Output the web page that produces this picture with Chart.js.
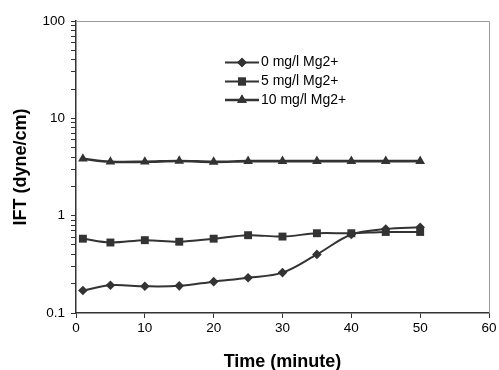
<!DOCTYPE html>
<html>
<head>
<meta charset="utf-8">
<script src="https://cdn.jsdelivr.net/npm/chart.js@4.4.1/dist/chart.umd.min.js"></script>
<style>
html,body{margin:0;padding:0;background:#fff;}
#wrap{width:499px;height:370px;position:relative;}
</style>
</head>
<body>
<div id="wrap"><canvas id="c" width="499" height="370"></canvas></div>
<script>
const timeMinutes = [1, 5, 10, 15, 20, 25, 30, 35, 40, 45, 50];
const ift0 = [0.17, 0.193, 0.188, 0.19, 0.21, 0.23, 0.26, 0.40, 0.64, 0.73, 0.76];
const ift5 = [0.58, 0.53, 0.56, 0.54, 0.58, 0.63, 0.61, 0.66, 0.66, 0.68, 0.68];
const ift10 = [3.84, 3.58, 3.58, 3.65, 3.57, 3.63, 3.63, 3.63, 3.63, 3.63, 3.63];
const seriesLabels = ['0 mg/l Mg2+', '5 mg/l Mg2+', '10 mg/l Mg2+'];
const yMajorTicks = [0.1, 1, 10, 100];
const xTicks = [0, 10, 20, 30, 40, 50, 60];

const FONT = "'Liberation Sans', Arial, sans-serif";
const INK = '#333333';

function pts(vals){ return timeMinutes.map((t,i)=>({x:t, y:vals[i]})); }

const yTickValues = [];
yMajorTicks.forEach((m, i) => {
  yTickValues.push(m);
  if (i < yMajorTicks.length - 1) for (let k = 2; k <= 9; k++) yTickValues.push(+(m * k).toPrecision(3));
});

const styles = [
  {pointStyle:'rectRot', radius:4.8, width:2},
  {pointStyle:'rect', radius:5.6, width:2},
  {pointStyle:'triangle', radius:5.6, width:2.6}
];
const values = [ift0, ift5, ift10];

const datasets = values.map((v,i)=>({
  label: seriesLabels[i],
  data: pts(v),
  borderColor: INK,
  backgroundColor: INK,
  borderWidth: styles[i].width,
  pointStyle: styles[i].pointStyle,
  pointRadius: styles[i].radius,
  pointHoverRadius: styles[i].radius,
  pointBorderWidth: 0,
  pointBackgroundColor: INK,
  tension: 0.35,
  fill: false
}));

const framePlugin = {
  id: 'frame',
  beforeDatasetsDraw(chart){
    const {ctx, chartArea:a} = chart;
    ctx.save();
    ctx.strokeStyle = '#9a9a9a';
    ctx.lineWidth = 1;
    ctx.beginPath();
    ctx.moveTo(a.left, a.top + 0.5);
    ctx.lineTo(a.right + 0.5, a.top + 0.5);
    ctx.lineTo(a.right + 0.5, a.bottom);
    ctx.stroke();
    ctx.restore();
  }
};

const legendPlugin = {
  id: 'insideLegend',
  afterDraw(chart){
    const ctx = chart.ctx;
    const rows = [62.5, 81.5, 100];
    ctx.save();
    chart.data.datasets.forEach((ds, i) => {
      const y = rows[i];
      ctx.strokeStyle = INK;
      ctx.lineWidth = ds.borderWidth;
      ctx.beginPath();
      ctx.moveTo(225, y);
      ctx.lineTo(259, y);
      ctx.stroke();
      ctx.fillStyle = INK;
      Chart.helpers.drawPoint(ctx, {pointStyle: ds.pointStyle, radius: ds.pointRadius, borderWidth: 0}, 242, y);
      ctx.fill();
      ctx.fillStyle = '#000';
      ctx.font = '14px ' + FONT;
      ctx.textBaseline = 'middle';
      ctx.textAlign = 'left';
      ctx.fillText(ds.label, 261, y);
    });
    ctx.restore();
  }
};

new Chart(document.getElementById('c'), {
  type: 'line',
  data: { datasets },
  options: {
    responsive: false,
    animation: false,
    devicePixelRatio: 1,
    layout: { padding: { left: 0, top: 21, right: 10, bottom: 0 } },
    plugins: { legend: { display: false }, tooltip: { enabled: false } },
    scales: {
      x: {
        type: 'linear',
        min: 0, max: 60,
        afterBuildTicks(scale){ scale.ticks = xTicks.map(v=>({value:v})); },
        afterFit(scale){ scale.height = 57; },
        ticks: { color: '#000', font: { family: FONT, size: 13.5 }, padding: 2, maxRotation: 0 },
        grid: { display: true, drawOnChartArea: false, drawTicks: true, tickLength: 5, color: INK, tickColor: INK },
        border: { display: true, color: INK, width: 1.5 },
        title: { display: true, text: 'Time (minute)', color: '#000', font: { family: FONT, size: 18, weight: 'bold' }, padding: { top: 4, bottom: -3 } }
      },
      y: {
        type: 'logarithmic',
        min: 0.1, max: 100,
        afterBuildTicks(scale){ scale.ticks = yTickValues.map(v=>({value:v, major: yMajorTicks.includes(v)})); },
        afterFit(scale){ scale.width = 76; },
        ticks: {
          color: '#000', font: { family: FONT, size: 13.5 }, padding: 6, autoSkip: false,
          callback(v){ return yMajorTicks.includes(v) ? String(v) : ''; }
        },
        grid: { display: true, drawOnChartArea: false, drawTicks: true, tickLength: 5, color: INK, tickColor: INK },
        border: { display: true, color: INK, width: 1.5 },
        title: { display: true, text: 'IFT (dyne/cm)', color: '#000', font: { family: FONT, size: 18, weight: 'bold' }, padding: { top: 10, bottom: 0 } }
      }
    }
  },
  plugins: [framePlugin, legendPlugin]
});
</script>
</body>
</html>
